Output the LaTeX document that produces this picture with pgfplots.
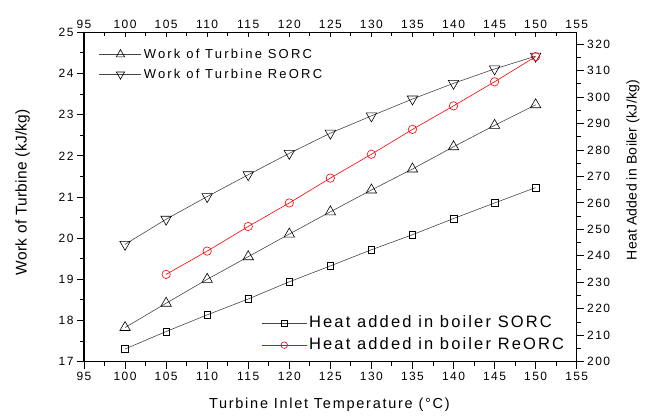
\documentclass[border=0pt]{standalone}
\usepackage{fontspec}
\setmainfont{Liberation Sans}[LetterSpace=12]
\newfontfamily\wideA{Liberation Sans}[LetterSpace=17]
\newfontfamily\wideB{Liberation Sans}[LetterSpace=13]
\newfontfamily\narrowA{Liberation Sans}[LetterSpace=2]
\usepackage{pgfplots}
\pgfplotsset{compat=1.18}
\usetikzlibrary{calc}
\definecolor{lgray}{RGB}{70,70,70}
\pgfplotsset{
  base/.style={scale only axis, width=492.7pt, height=329.4pt,
    xmin=95, xmax=155,
    /pgf/number format/assume math mode=true,
    axis line style={line width=1.3pt},
    every tick/.style={black, line width=0.9pt},
    major tick length=7pt, minor tick length=4pt,
    tick label style={font=\fontsize{12}{13}\selectfont},
    clip=false,
  },
  ser/.style={line width=0.6pt, mark options={solid, fill=white, line width=0.6pt}},
}
\begin{document}
\begin{tikzpicture}
% left y + bottom x
\begin{axis}[base, name=ax,
  ymin=17, ymax=25, ytick={17,...,25}, minor y tick num=1,
  xtick={95,100,...,155}, minor x tick num=1,
  xtick pos=left, ytick pos=left, tick align=outside,
  xlabel={Turbine Inlet Temperature (°C)},
  ylabel={Work of Turbine (kJ/kg)},
  xlabel style={font=\fontsize{14.5}{16}\selectfont, at={(axis description cs:0.498,-0.1315)}, anchor=center},
  ylabel style={font=\narrowA\fontsize{15.5}{17}\selectfont, at={(axis description cs:-0.1244,0.515)}, anchor=center},
  legend style={at={(axis description cs:0.0304,0.957)}, anchor=north west, draw=none, fill=none,
    inner sep=0pt, row sep=4.5pt, font=\wideA\fontsize{13}{15}\selectfont,
    nodes={text height=9.5pt, text depth=2pt, inner sep=2pt}},
  legend cell align=left,
  legend image code/.code={\draw[mark repeat=2, mark phase=2] plot coordinates {(0pt,0pt) (21pt,0pt) (42pt,0pt)};},
  legend image post style={mark size=4.8pt},
]
\addplot[ser, lgray, mark=triangle, mark size=6pt, mark options={black}] coordinates {
(100,17.83) (105,18.42) (110,19.00) (115,19.55) (120,20.10) (125,20.64)
(130,21.17) (135,21.68) (140,22.22) (145,22.74) (150,23.24)};
\addlegendentry{Work of Turbine SORC}
\addplot[ser, lgray, mark=triangle, mark size=6pt, mark options={black, rotate=180}] coordinates {
(100,19.85) (105,20.46) (110,21.01) (115,21.54) (120,22.06) (125,22.55)
(130,22.97) (135,23.38) (140,23.76) (145,24.11) (150,24.42)};
\addlegendentry{Work of Turbine ReORC}
\end{axis}
% top x axis
\begin{axis}[base,
  ymin=17, ymax=25, ytick=\empty,
  xtick={95,100,...,155}, minor x tick num=1,
  xtick pos=right, xticklabel pos=right, tick align=inside,
  major tick length=4.5pt, minor tick length=4pt,
]
\end{axis}
% right y axis
\begin{axis}[base,
  ymin=200, ymax=324.5, ytick={200,210,...,320}, minor y tick num=1,
  xtick=\empty,
  ytick pos=right, yticklabel pos=right, tick align=outside,
  ylabel={Heat Added in Boiler (kJ/kg)},
  ylabel style={font=\narrowA\fontsize{14}{16}\selectfont, at={(axis description cs:1.1143,0.582)}, anchor=center},
  legend style={at={(axis description cs:0.979,0.02)}, anchor=south east, draw=none, fill=none,
    inner sep=0pt, row sep=2.5pt, font=\wideB\fontsize{16.5}{18}\selectfont,
    nodes={text height=12pt, text depth=3.5pt, inner sep=2pt}},
  legend cell align=left,
  legend image code/.code={\draw[mark repeat=2, mark phase=2] plot coordinates {(0pt,0pt) (22.5pt,0pt) (45pt,0pt)};},
  legend image post style={mark size=3.3pt},
]
\addplot[ser, lgray, mark=square, mark size=3.3pt, mark options={black}] coordinates {
(100,204.8) (105,211.4) (110,217.7) (115,223.7) (120,230.2) (125,236.2)
(130,242.3) (135,248.0) (140,254.1) (145,260.0) (150,265.8)};
\addlegendentry{Heat added in boiler SORC}
\addplot[ser, red, mark=o, mark size=4.2pt, mark options={red}] coordinates {
(105,233.0) (110,241.8) (115,251.1) (120,260.0) (125,269.4)
(130,278.4) (135,287.8) (140,296.7) (145,305.8) (150,315.3)};
\addlegendentry{Heat added in boiler ReORC}
\end{axis}
\path ($(ax.south west)+(-84pt,-54.3pt)$) rectangle ($(ax.north east)+(77.3pt,32.3pt)$);
\end{tikzpicture}
\end{document}
